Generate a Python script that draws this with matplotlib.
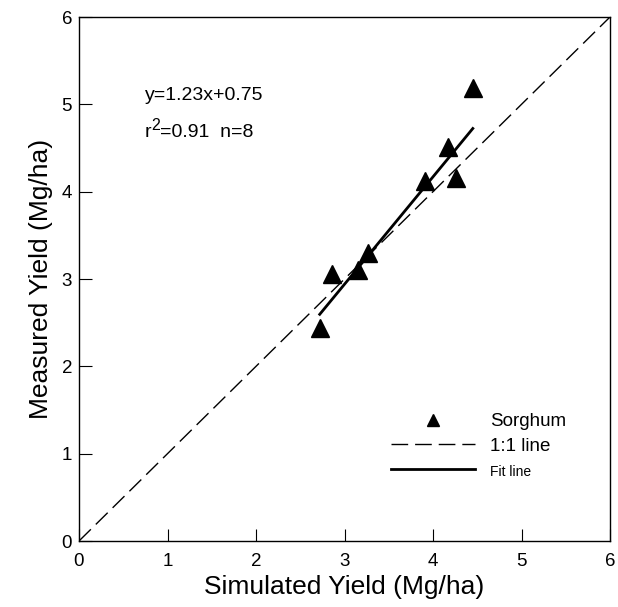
import matplotlib
matplotlib.use("Agg")
import matplotlib.pyplot as plt
from matplotlib.lines import Line2D
import matplotlib.transforms as mtransforms
import numpy as np

plt.rcParams['font.family'] = ['Liberation Sans', 'DejaVu Sans']

simulated = [2.72, 2.86, 3.15, 3.27, 3.91, 4.17, 4.26, 4.45]
measured = [2.44, 3.06, 3.10, 3.30, 4.12, 4.51, 4.16, 5.19]
fit_slope = 1.23
fit_intercept = -0.75
ticks = [0, 1, 2, 3, 4, 5, 6]

fig = plt.figure(figsize=(6.18, 6.07), dpi=100)
ax = fig.add_axes([79/618, 1-541/607, 531/618, 524/607])

ax.plot([0, 6], [0, 6], color='black', lw=1.0, dashes=(12, 5))
fx = np.array([min(simulated), max(simulated)])
ax.plot(fx, fit_slope*fx + fit_intercept, color='black', lw=2.0)
ax.plot(simulated, measured, linestyle='none', marker='^', color='black', markersize=12.5)

ax.set_xlim(0, 6)
ax.set_ylim(0, 6)
ax.set_xticks(ticks)
ax.set_yticks(ticks)
ax.tick_params(direction='in', length=9, labelsize=13.5, width=0.8)
ax.tick_params(axis='x', pad=9)
ax.tick_params(axis='y', pad=5)
for s in ax.spines.values():
    s.set_linewidth(1.0)
ax.set_xlabel('Simulated Yield (Mg/ha)', fontsize=19, labelpad=3)
ax.set_ylabel('Measured Yield (Mg/ha)', fontsize=19, labelpad=6)

fs = 14
ax.text(0.124, 0.851, 'y=1.23x+0.75', transform=ax.transAxes, fontsize=fs, va='center')
t1 = ax.text(0.124, 0.779, 'r', transform=ax.transAxes, fontsize=fs, va='center')
fig.canvas.draw()
r = fig.canvas.get_renderer()
w1 = t1.get_window_extent(r).width
tr2 = mtransforms.offset_copy(ax.transAxes, fig=fig, x=w1*72/fig.dpi, y=5, units='points')
t2 = ax.text(0.124, 0.779, '2', transform=tr2, fontsize=11.5, va='center')
fig.canvas.draw()
w2 = t2.get_window_extent(r).width
tr3 = mtransforms.offset_copy(ax.transAxes, fig=fig, x=(w1+w2)*72/fig.dpi, y=0, units='points')
ax.text(0.124, 0.779, '=0.91  n=8', transform=tr3, fontsize=fs, va='center')

handles = [Line2D([], [], linestyle='none', marker='^', color='black', markersize=8),
           Line2D([], [], color='black', lw=1.0, dashes=(12, 5)),
           Line2D([], [], color='black', lw=2.0)]
leg = ax.legend(handles, ['Sorghum', '1:1 line', 'Fit line'], loc='lower right',
                bbox_to_anchor=(0.95, 0.087), frameon=False, fontsize=13.5,
                handlelength=4.5, handletextpad=0.8, labelspacing=0.4)
leg.get_texts()[2].set_fontsize(10)

fig.savefig('out.png', dpi=100)
